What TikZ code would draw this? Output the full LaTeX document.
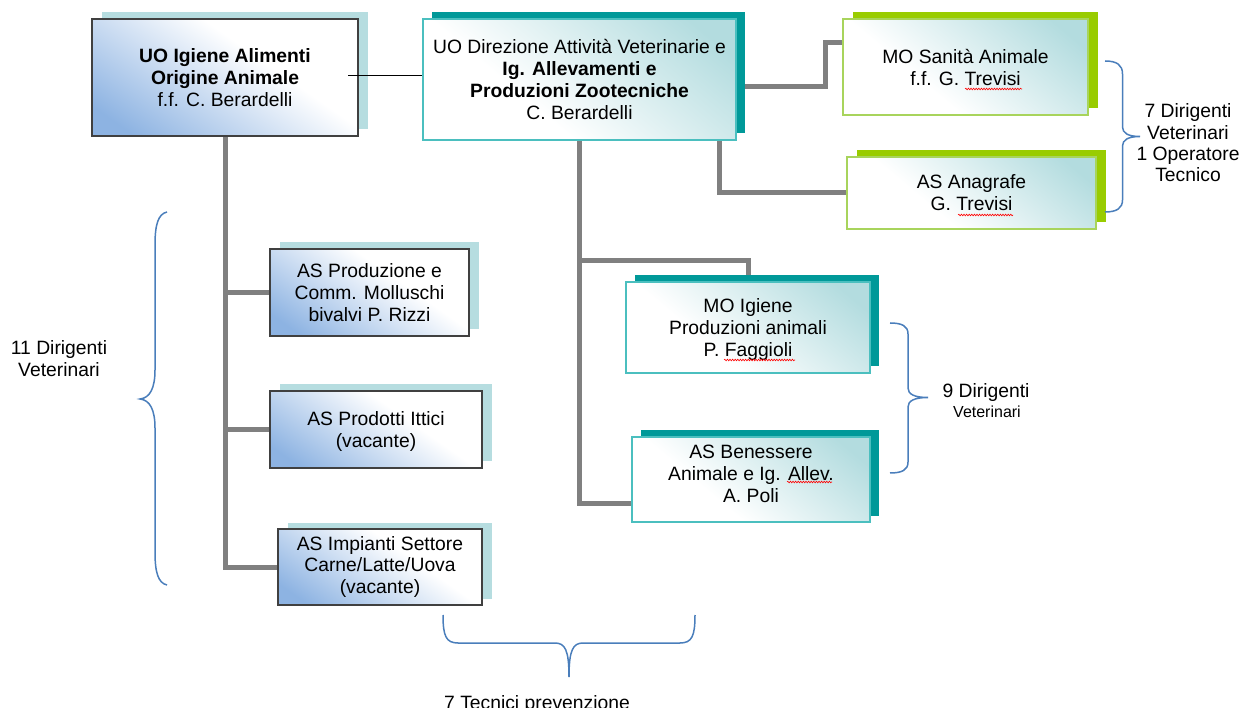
\documentclass[tikz,border=0pt]{standalone}
\usepackage{fontspec}
\setmainfont{Liberation Sans}
\usetikzlibrary{shadows,calc,decorations.pathmorphing}
\definecolor{tealDark}{HTML}{009999}
\definecolor{tealLine}{HTML}{4BBFBF}
\definecolor{tealFill}{HTML}{B3DCDF}
\definecolor{paleShadow}{HTML}{B6DDE0}
\definecolor{blueFill}{HTML}{8DB3E2}
\definecolor{greenShadow}{HTML}{99CC00}
\definecolor{greenLine}{HTML}{A8D45C}
\definecolor{boxLine}{HTML}{404040}
\definecolor{connGray}{HTML}{808080}
\definecolor{braceBlue}{HTML}{4A7EBB}
\pgfdeclarehorizontalshading{blueshade}{100bp}{color(0bp)=(blueFill); color(22bp)=(blueFill); color(60bp)=(white); color(100bp)=(white)}
\pgfdeclarehorizontalshading{tealshade}{100bp}{color(0bp)=(white); color(38bp)=(white); color(78bp)=(tealFill); color(100bp)=(tealFill)}
\newcommand\fsz{\fontsize{19.3}{21.8}\selectfont}
\pgfdeclarelayer{bg}
\pgfsetlayers{bg,main}
\tikzset{
  basebox/.style={rectangle, inner sep=0pt, align=center, font=\fsz, text=black},
  bluebox/.style={basebox, draw=boxLine, line width=1.3pt, shade, shading=blueshade, shading angle=55,
     general shadow={shadow xshift=9.5pt, shadow yshift=6.5pt, fill=paleShadow, draw=none}},
  tealbox/.style={basebox, draw=tealLine, line width=1.3pt, shade, shading=tealshade, shading angle=50,
     general shadow={shadow xshift=9pt, shadow yshift=6.5pt, fill=tealDark, draw=none}},
  greenbox/.style={basebox, draw=greenLine, line width=1.3pt, shade, shading=tealshade, shading angle=50,
     general shadow={shadow xshift=9.5pt, shadow yshift=6.5pt, fill=greenShadow, draw=none}},
  conn/.style={draw=connGray, line width=5pt},
  bracelin/.style={draw=braceBlue, line width=1.5pt},
  spell/.style={draw=red, line width=0.6pt, decorate, decoration={snake, amplitude=0.8pt, segment length=2.6pt}},
  note/.style={font=\fsz, align=center, inner sep=0pt, text=black}
}
\begin{document}
\begin{tikzpicture}[x=1pt,y=-1pt]
\useasboundingbox (0,0) rectangle (1240,708);
% boxes
\node[bluebox, minimum width=266pt, minimum height=117pt, text depth=-6pt] (b1) at (225,77.5)
  {\textbf{UO Igiene Alimenti}\\\textbf{Origine Animale}\\f.f. C. Berardelli};
\node[tealbox, minimum width=313pt, minimum height=121pt, text depth=-8pt] (b2) at (579.5,79.5)
  {UO Direzione Attività Veterinarie e\\\textbf{Ig. Allevamenti e}\\\textbf{Produzioni Zootecniche}\\C. Berardelli};
\node[greenbox, minimum width=245pt, minimum height=96pt, text depth=-4pt] (b3) at (965.5,67)
  {MO Sanità Animale\\f.f. G. Trevisi};
\node[greenbox, minimum width=249pt, minimum height=72pt] (b4) at (971.5,193)
  {AS Anagrafe\\G. Trevisi};
\node[bluebox, minimum width=199pt, minimum height=87pt, text depth=-4pt] (b5) at (369.5,292.5)
  {AS Produzione e\\Comm. Molluschi\\bivalvi P. Rizzi};
\node[bluebox, minimum width=212pt, minimum height=77pt, text depth=-3pt] (b6) at (376,429.5)
  {AS Prodotti Ittici\\(vacante)};
\node[bluebox, minimum width=204pt, minimum height=76pt] (b7) at (380,567)
  {AS Impianti Settore\\Carne/Latte/Uova\\(vacante)};
\node[tealbox, minimum width=244pt, minimum height=91pt, text depth=-2pt] (b8) at (748,327.5)
  {MO Igiene\\Produzioni animali\\P. Faggioli};
\node[tealbox, minimum width=238pt, minimum height=85pt, text depth=12pt] (b9) at (751,479.5)
  {AS Benessere\\Animale e Ig. Allev.\\A. Poli};
% connectors
\coordinate (mBot) at (579.5,503);
\coordinate (mTop) at (579.5,260.5);
\coordinate (rA) at (825,87);
\coordinate (rB) at (825,43);
\coordinate (rC) at (719.5,192);
\coordinate (tl) at (348,75);
\begin{pgfonlayer}{bg}
\draw[conn] (b1.south) |- (b7.west);
\draw[conn] (b1.south |- b5.west) -- (b5.west);
\draw[conn] (b1.south |- b6.west) -- (b6.west);
\draw[conn] (b2.south) -- (mBot) -- (b9.west |- mBot);
\draw[conn] (mTop) -| (b8.north);
\draw[conn] (b2.east |- rA) -- (rA) -- (rB) -- (b3.west |- rB);
\draw[conn] (b2.south -| rC) |- (b4.west);
\end{pgfonlayer}
\draw[black, line width=0.9pt] (tl) -- (b2.west |- tl);
% spelling marks
\draw[spell] (965,89) -- (1022,89);
\draw[spell] (958,215) -- (1013,215);
\draw[spell] (724,360) -- (795,360);
\draw[spell] (787,482) -- (832,482);
% braces
\draw[bracelin] (1105,61) .. controls (1117,61) and (1122.5,65) .. (1122.5,74) -- (1122.5,127)
  .. controls (1122.5,133) and (1128,136.5) .. (1140,136.5)
  .. controls (1128,136.5) and (1122.5,140) .. (1122.5,146) -- (1122.5,200)
  .. controls (1122.5,208) and (1117,212) .. (1105,212);
\draw[bracelin] (890,323) .. controls (902,323) and (908,326) .. (908,334) -- (908,388)
  .. controls (908,394) and (914,397.5) .. (928,397.5)
  .. controls (914,397.5) and (908,401) .. (908,407) -- (908,462)
  .. controls (908,470) and (902,473) .. (890,473);
\draw[bracelin] (167,212) .. controls (158,214) and (155,225) .. (155,245) -- (155,370)
  .. controls (155,388) and (150,398) .. (140,399)
  .. controls (150,400) and (155,410) .. (155,428) -- (155,552)
  .. controls (155,572) and (158,583) .. (167,585);
\draw[bracelin] (443,615) .. controls (443,636) and (446,643) .. (458,643) -- (555,643)
  .. controls (565,643) and (569,650) .. (569,677);
\draw[bracelin] (695,615) .. controls (695,636) and (692,643) .. (680,643) -- (583,643)
  .. controls (573,643) and (569,650) .. (569,677);
% texts
\node[note, font=\fontsize{19.3}{21.3}\selectfont] (t1) at (1188,143) {7 Dirigenti\\Veterinari\\1 Operatore\\Tecnico};
\node[note, anchor=base] (t2) at (986,398) {9 Dirigenti};
\node[note, anchor=base, font=\fontsize{16}{18}\selectfont] (t3) at (987,418) {Veterinari};
\node[note, font=\fontsize{19.3}{22}\selectfont] (t4) at (59,359) {11 Dirigenti\\Veterinari};
\node[note, anchor=base] (t5) at (537,709) {7 Tecnici prevenzione};
\end{tikzpicture}
\end{document}
